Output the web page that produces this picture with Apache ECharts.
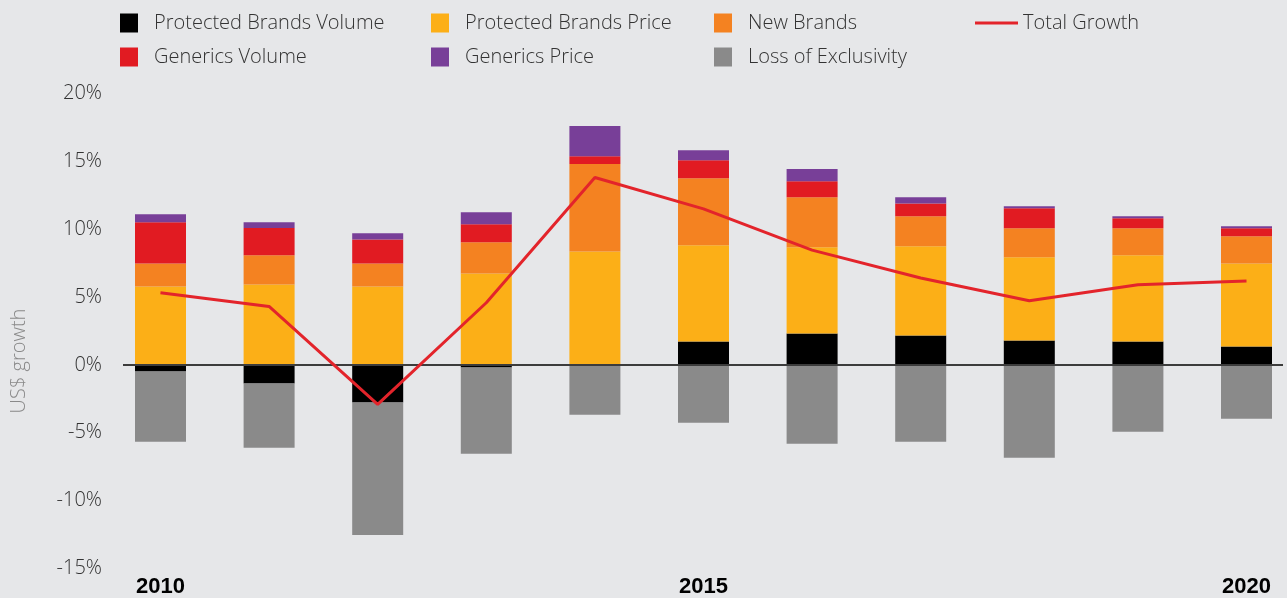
<!DOCTYPE html>
<html>
<head>
<meta charset="utf-8">
<script src="https://cdn.jsdelivr.net/npm/echarts@6/dist/echarts.min.js"></script>
<style>
html,body{margin:0;padding:0;background:#e6e7e9;}
#chart{width:1287px;height:598px;}
</style>
</head>
<body>
<div id="chart"></div>
<script>
const years = ['2010', '2011', '2012', '2013', '2014', '2015', '2016', '2017', '2018', '2019', '2020'];
const yearTicks = ['2010', '2015', '2020'];
const protectedBrandsVolume = [-0.54, -1.43, -2.84, -0.26, 0, 1.67, 2.26, 2.11, 1.74, 1.67, 1.30];
const protectedBrandsPrice = [5.74, 5.89, 5.74, 6.70, 8.33, 7.11, 6.37, 6.59, 6.15, 6.37, 6.14];
const newBrands = [1.70, 2.15, 1.70, 2.30, 6.45, 4.96, 3.70, 2.23, 2.15, 2.00, 2.00];
const genericsVolume = [3.04, 2.02, 1.76, 1.33, 0.59, 1.33, 1.19, 0.94, 1.48, 0.74, 0.60];
const genericsPrice = [0.59, 0.42, 0.47, 0.89, 2.22, 0.74, 0.89, 0.46, 0.15, 0.15, 0.15];
const lossOfExclusivity = [-5.20, -4.76, -9.79, -6.37, -3.74, -4.33, -5.89, -5.74, -6.93, -5.00, -4.04];
const totalGrowth = [5.32, 4.31, -2.90, 4.58, 13.81, 11.50, 8.46, 6.40, 4.73, 5.91, 6.19];

const FONT = 'Open Sans';

function bar(name, data, color) {
  return {
    name, type: 'bar', stack: 'total', barWidth: 51, clip: false,
    xAxisIndex: 0, yAxisIndex: 0,
    data, itemStyle: { color }, emphasis: { disabled: true }
  };
}

const chart = echarts.init(document.getElementById('chart'));
const legendText = { fontFamily: FONT, fontSize: 20, color: '#333333', fontWeight: 300, padding: [0, 0, 0, 11] };
function legendCol(left, data, extra) {
  return Object.assign({
    left, top: 13, padding: 0, orient: 'vertical', itemGap: 14, itemWidth: 18, itemHeight: 19,
    icon: 'rect', selectedMode: false, data, textStyle: legendText
  }, extra || {});
}

const yBase = { type: 'value', min: -15, max: 20, interval: 5,
  splitLine: { show: false }, axisLine: { show: false }, axisTick: { show: false } };

chart.setOption({
  backgroundColor: '#e6e7e9',
  animation: false,
  grid: [
    { left: 160.5, right: 40.5, top: 93.5, bottom: 29.5 },
    { left: 123, right: 4, top: 93.5, bottom: 29.5 }
  ],
  legend: [
    legendCol(120, ['Protected Brands Volume', 'Generics Volume']),
    legendCol(431, ['Protected Brands Price', 'Generics Price']),
    legendCol(714, ['New Brands', 'Loss of Exclusivity']),
    legendCol(975, ['Total Growth'], { itemWidth: 43, icon: 'path://M0,0H43V3H0Z',
      textStyle: Object.assign({}, legendText, { padding: [0, 0, 0, 0] }) })
  ],
  xAxis: [{
    type: 'category', gridIndex: 0, data: years, boundaryGap: false,
    axisLine: { show: false }, axisTick: { show: false },
    axisLabel: {
      interval: (i, v) => yearTicks.includes(v),
      fontFamily: 'Liberation Sans', fontWeight: 'bold', fontSize: 22, color: '#000', margin: 9
    }
  }, {
    type: 'value', gridIndex: 1, min: -0.345, max: 10.336, show: false
  }],
  yAxis: [
    Object.assign({ gridIndex: 0, axisLabel: { show: false } }, yBase),
    Object.assign({ gridIndex: 1,
      axisLabel: { formatter: '{value}%', fontFamily: FONT, fontWeight: 300, fontSize: 20, color: '#333333', margin: 21 } }, yBase)
  ],
  graphic: [{
    type: 'text', rotation: Math.PI / 2, x: 19, y: 361,
    style: { text: 'US$ growth', fontFamily: FONT, fontWeight: 300, fontSize: 20, fill: '#8a8a8a', align: 'center', verticalAlign: 'middle' }
  }],
  series: [
    bar('Protected Brands Volume', protectedBrandsVolume, '#000000'),
    bar('Protected Brands Price', protectedBrandsPrice, '#fcaf17'),
    bar('New Brands', newBrands, '#f48221'),
    bar('Generics Volume', genericsVolume, '#e11b22'),
    bar('Generics Price', genericsPrice, '#783f98'),
    bar('Loss of Exclusivity', lossOfExclusivity, '#8a8a8a'),
    {
      name: 'Total Growth', type: 'line', xAxisIndex: 1, yAxisIndex: 1,
      data: totalGrowth.map((v, i) => [i, v]), symbol: 'none',
      lineStyle: { color: '#e3242b', width: 3 }, itemStyle: { color: '#e3242b' },
      emphasis: { disabled: true }, z: 5,
      markLine: {
        silent: true, symbol: 'none', label: { show: false },
        lineStyle: { color: '#3c3c3c', width: 2, type: 'solid' },
        data: [{ yAxis: 0 }]
      }
    }
  ]
});
</script>
</body>
</html>
